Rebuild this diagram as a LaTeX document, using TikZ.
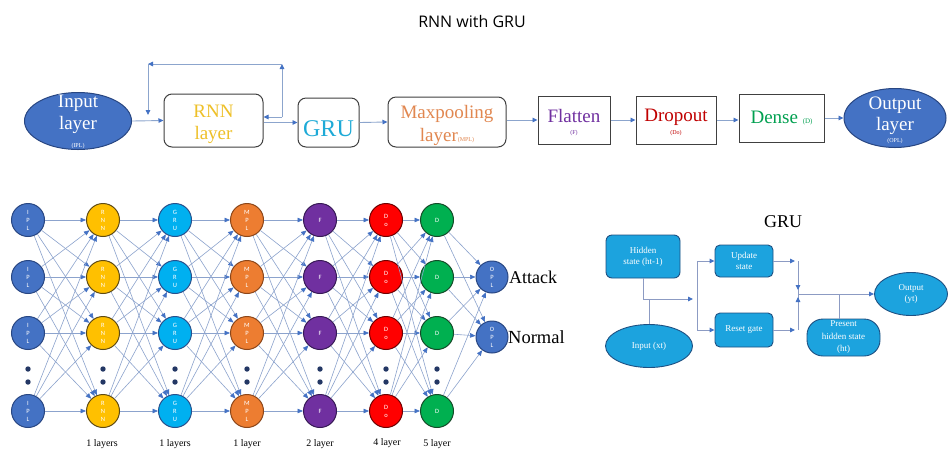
\documentclass[tikz,border=0pt]{standalone}
\usepackage{fontspec}
\setmainfont{Liberation Serif}
\newfontfamily\titlefont{Open Sans}
\newfontfamily\cirfont{Carlito}
\usetikzlibrary{arrows.meta,shapes.geometric,calc}
\definecolor{lnk}{RGB}{140,165,205}
\definecolor{nlnk}{RGB}{140,163,205}
\definecolor{tipc}{RGB}{68,114,196}
\definecolor{iplF}{RGB}{68,114,196}
\definecolor{iplD}{RGB}{40,70,130}
\definecolor{rnnF}{RGB}{255,192,0}
\definecolor{rnnD}{RGB}{95,75,20}
\definecolor{gruF}{RGB}{0,176,240}
\definecolor{gruD}{RGB}{40,80,140}
\definecolor{mplF}{RGB}{237,125,49}
\definecolor{mplD}{RGB}{140,70,25}
\definecolor{fF}{RGB}{112,48,160}
\definecolor{fD}{RGB}{55,25,85}
\definecolor{doF}{RGB}{255,0,0}
\definecolor{doD}{RGB}{110,0,0}
\definecolor{dF}{RGB}{0,176,80}
\definecolor{dD}{RGB}{20,75,40}
\definecolor{dotc}{RGB}{35,55,100}
\definecolor{rnnT}{RGB}{238,192,40}
\definecolor{gruT}{RGB}{30,170,215}
\definecolor{mpT}{RGB}{225,135,80}
\definecolor{flT}{RGB}{112,48,160}
\definecolor{drT}{RGB}{192,0,0}
\definecolor{deT}{RGB}{0,160,80}
\definecolor{gboxF}{RGB}{28,163,222}
\definecolor{gboxD}{RGB}{30,80,130}
\definecolor{gline}{RGB}{140,155,195}
\begin{document}
\begin{tikzpicture}[x=1pt,y=-1pt,
  arr/.style={draw=lnk, line width=0.9pt, -{Triangle[length=5pt,width=4.5pt,color=tipc]}},
  narr/.style={draw=nlnk, line width=0.6pt, -{Triangle[length=5.5pt,width=4.5pt,color=tipc]}},
  gl/.style={draw=gline, line width=0.9pt},
  garr/.style={draw=gline, line width=0.9pt, -{Triangle[length=5pt,width=4.5pt,color=tipc]}},
  ell/.style={ellipse, draw=iplD, fill=iplF, line width=1pt, inner sep=0},
  topbox/.style={draw=black!75, line width=1pt, inner sep=0},
  big/.style={font=\fontsize{19}{22}\selectfont, align=center, inner sep=0},
  sub/.style={font=\fontsize{6}{7}\selectfont, inner sep=0},
  neuron/.style={circle, minimum size=33pt, inner sep=0, line width=1pt,
    font=\cirfont\fontsize{6.5}{8}\selectfont, text=white, align=center},
  gbox/.style={draw=gboxD, fill=gboxF, line width=0.9pt, text=white,
    font=\fontsize{9}{11}\selectfont, align=center, inner sep=0},
  lay/.style={font=\fontsize{10}{12}\selectfont, inner sep=0}
]
\useasboundingbox (0,0) rectangle (949,451);
\fill[white] (0,0) rectangle (949,451);

% ---------- title ----------
\node[font=\titlefont\fontsize{16}{19}\selectfont, inner sep=0] (title) at (472,21) {RNN with GRU};

% ---------- top row ----------
\node[ell, minimum width=107pt, minimum height=57pt] (inp1) at (78,121) {};
\node[big, text=white] (inp1t) at (78,114.5) {Input\\layer};
\node[sub, text=white] (inp1s) at (78,146) {(IPL)};

\node[topbox, rounded corners=8pt, minimum width=99pt, minimum height=53pt] (rnn) at (213.5,120.5) {};
\node[big, text=rnnT] (rnnt) at (213.5,124.8) {RNN\\layer};

\node[topbox, rounded corners=8pt, minimum width=61pt, minimum height=49pt] (gru) at (328.5,122.5) {};
\node[font=\fontsize{24}{26}\selectfont, text=gruT, inner sep=0] (grut) at (328.5,129) {GRU};

\node[topbox, rounded corners=8pt, minimum width=118pt, minimum height=50pt] (mp) at (447,122) {};
\node[font=\fontsize{19}{23}\selectfont, align=center, inner sep=0, text=mpT] (mpt) at (447,125.5) {Maxpooling\\layer{\fontsize{6}{7}\selectfont(MPL)}};

\node[topbox, minimum width=72pt, minimum height=48pt] (fl) at (574,120) {};
\node[big, text=flT] (flt) at (574,115.5) {Flatten};
\node[sub, text=flT] (fls) at (574,133) {(F)};

\node[topbox, minimum width=80pt, minimum height=48pt] (dr) at (676,120) {};
\node[big, text=drT] (drt) at (676,117) {Dropout};
\node[sub, text=drT] (drs) at (676,133) {(Do)};

\node[topbox, minimum width=85pt, minimum height=48pt] (de) at (781.5,118) {};
\node[big, text=deT] (det) at (781.5,118.5) {Dense {\fontsize{7}{8}\selectfont(D)}};

\node[ell, minimum width=102pt, minimum height=59pt] (out1) at (895,118) {};
\node[font=\fontsize{19}{21}\selectfont, align=center, inner sep=0, text=white] (out1t) at (895,116) {Output\\layer};
\node[sub, text=white] (out1s) at (895,141) {(OPL)};

\draw[arr] (inp1.east) -- (rnn.west);
\draw[arr] (rnn.east |- gru.west) -- (gru.west);
\draw[arr] (gru.east) -- (mp.west);
\draw[arr] (mp.east |- fl.west) -- (fl.west);
\draw[arr] (fl.east) -- (dr.west);
\draw[arr] (dr.east) -- (dr.east -| de.west);
\draw[arr] (de.east) -- (out1.west);

\coordinate (L1) at (282,117);
\coordinate (L2) at (282,64);
\coordinate (L3) at (148,64);
\coordinate (L4) at (148,115);
\draw[arr] (L1) -- (L1 -| rnn.east);
\draw[arr] (L1) -- (L2);
\draw[arr] (L2) -- (L3);
\draw[arr] (L3) -- (L4);

% ---------- network ----------
\foreach \c/\x/\fc/\dc/\txt in {1/28/iplF/iplD/{I\\P\\L}, 2/103/rnnF/rnnD/{R\\N\\N},
    3/175/gruF/gruD/{G\\R\\U}, 4/247/mplF/mplD/{M\\P\\L}, 5/320/fF/fD/{F},
    6/386/doF/doD/{D\\o}, 7/437/dF/dD/{D}} {
  \foreach \r/\y in {1/220,2/277,3/333,4/411}
    \node[neuron, fill=\fc, draw=\dc] (n\c-\r) at (\x,\y) {\txt};
  \fill[dotc] (\x,369) circle (2.7pt) (\x,382) circle (2.7pt);
}
\node[neuron, fill=iplF, draw=iplD, minimum size=32pt] (o1) at (492,277) {O\\P\\L};
\node[neuron, fill=iplF, draw=iplD, minimum size=32pt] (o2) at (492,337) {O\\P\\L};

\foreach \c in {1,...,6} {
  \pgfmathtruncatemacro{\d}{\c+1}
  \foreach \a in {1,...,4}
    \foreach \b in {1,...,4}
      \draw[narr] (n\c-\a) -- (n\d-\b);
}
\foreach \a in {1,...,4}
  \foreach \b in {1,2}
    \draw[narr] (n7-\a) -- (o\b);

\node[font=\fontsize{18}{20}\selectfont, anchor=west, inner sep=0] (atk) at (509,277) {Attack};
\node[font=\fontsize{18.5}{20}\selectfont, anchor=west, inner sep=0] (nrm) at (508,337) {Normal};

\node[lay] (l1) at (102,444) {1 layers};
\node[lay] (l2) at (175,444) {1 layers};
\node[lay] (l3) at (247,444) {1 layer};
\node[lay] (l4) at (320,444) {2 layer};
\node[lay] (l5) at (387,443) {4 layer};
\node[lay] (l6) at (437,444) {5 layer};

% ---------- GRU diagram ----------
\node[font=\fontsize{18}{20}\selectfont, inner sep=0] (grutitle) at (783,222) {GRU};
\node[gbox, rounded corners=6pt, minimum width=74pt, minimum height=43pt] (hid) at (643,256.5) {Hidden\\state (ht-1)};
\node[gbox, rounded corners=5pt, minimum width=58pt, minimum height=32pt] (upd) at (744,261) {Update\\state};
\node[gbox, rounded corners=5pt, minimum width=58pt, minimum height=34pt] (rst) at (744,330) {Reset gate};
\node[gbox, ellipse, minimum width=87pt, minimum height=43pt] (inx) at (649,346) {Input (xt)};
\node[gbox, ellipse, minimum width=73pt, minimum height=43pt] (outy) at (911,294) {Output\\(yt)};
\node[gbox, rounded corners=16pt, minimum width=73pt, minimum height=37pt, font=\fontsize{9}{12.5}\selectfont] (pres) at (843.5,337.5) {Present\\hidden state\\(ht)};

\coordinate (hjE) at (693,299);
\draw[garr] (hid.south) |- (hjE);
\draw[gl] (inx.north) -- (inx.north |- hjE);
\coordinate (bT) at (697,261);
\coordinate (bB) at (697,330);
\draw[gl] (bT) -- (bB);
\draw[garr] (bT) -- (upd.west);
\draw[garr] (bB) -- (rst.west);
\coordinate (uE) at (795,261);
\coordinate (rE) at (795,330);
\draw[garr] (upd.east) -- (uE);
\draw[garr] (rst.east) -- (rE);
\coordinate (mT) at (798,261);
\coordinate (mB) at (798,330);
\coordinate (mA) at (798,290);
\coordinate (mC) at (798,297);
\coordinate (mM) at (798,294);
\draw[gl] (mT) -- (mB);
\draw[garr] (mT) -- (mA);
\draw[garr] (mB) -- (mC);
\draw[garr] (mM) -- (outy.west);
\coordinate (pX) at (839,294);
\draw[gl] (pX) -- (pX |- pres.north);
\end{tikzpicture}
\end{document}
